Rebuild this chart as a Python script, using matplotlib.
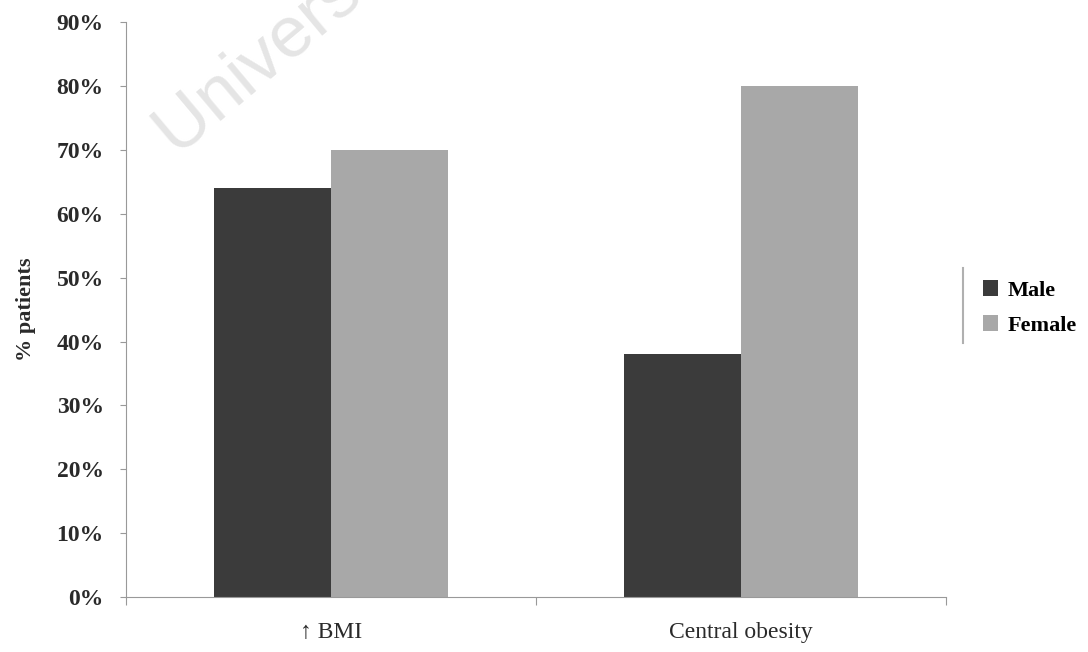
import numpy as np
import matplotlib
matplotlib.use("Agg")
import matplotlib.pyplot as plt
from matplotlib.lines import Line2D

# values (fraction of patients)
categories = ["\u2191 BMI", "Central obesity"]
male = [0.64, 0.38]
female = [0.70, 0.80]
series_names = ["Male", "Female"]
yticks = [0.0, 0.1, 0.2, 0.3, 0.4, 0.5, 0.6, 0.7, 0.8, 0.9]

SERIF = ["Liberation Serif", "DejaVu Serif"]

fig = plt.figure(figsize=(10.88, 6.52), dpi=100)
ax = fig.add_axes([0.1158, 0.0844, 0.7537, 0.8816])

x = np.arange(len(categories))
w = 0.285
b1 = ax.bar(x - w / 2, male, w, color="#3b3b3b", label=series_names[0])
b2 = ax.bar(x + w / 2, female, w, color="#a8a8a8", label=series_names[1])

ax.set_xlim(-0.5, 1.5)
ax.set_ylim(0, 0.9)
ax.set_yticks(yticks)
ax.set_yticklabels(["{:d}%".format(int(round(v * 100))) for v in yticks],
                   family=SERIF, fontweight="bold", fontsize=17, color="#2a2a2a")
ax.set_xticks([-0.5, 0.5, 1.5])
ax.set_xticklabels([])
ax.tick_params(axis="y", length=4, color="#999999", pad=12)
ax.tick_params(axis="x", length=6, color="#999999")
for i, c in enumerate(categories):
    ax.text(i, -0.055, c, ha="center", va="center", family=SERIF,
            fontsize=17, color="#2a2a2a", transform=ax.transData)

for s in ["top", "right"]:
    ax.spines[s].set_visible(False)
ax.spines["left"].set_color("#999999")
ax.spines["bottom"].set_color("#999999")

ax.set_ylabel("% patients", family=SERIF, fontweight="bold", fontsize=16,
              color="#2a2a2a")
ax.yaxis.set_label_coords(-0.11, 0.5)

leg = fig.legend(handles=[b1, b2], loc="center left", bbox_to_anchor=(0.885, 0.528),
                 frameon=False, prop={"family": SERIF, "weight": "bold", "size": 16},
                 handlelength=0.7, handleheight=0.7, handletextpad=0.4,
                 labelspacing=0.65)
fig.add_artist(Line2D([0.885, 0.885], [1 - 343 / 652, 1 - 268 / 652],
                      transform=fig.transFigure, color="#b0b0b0", lw=1.5))

# faint watermark across the top-left corner
fig.text(0.1627, 0.759, "University of Cape Town", rotation=40, fontsize=52,
         color="#e2e2e2", alpha=0.9, family=["Liberation Sans", "DejaVu Sans"],
         ha="left", va="baseline", rotation_mode="anchor", zorder=5)

fig.savefig("out.png", dpi=100)
